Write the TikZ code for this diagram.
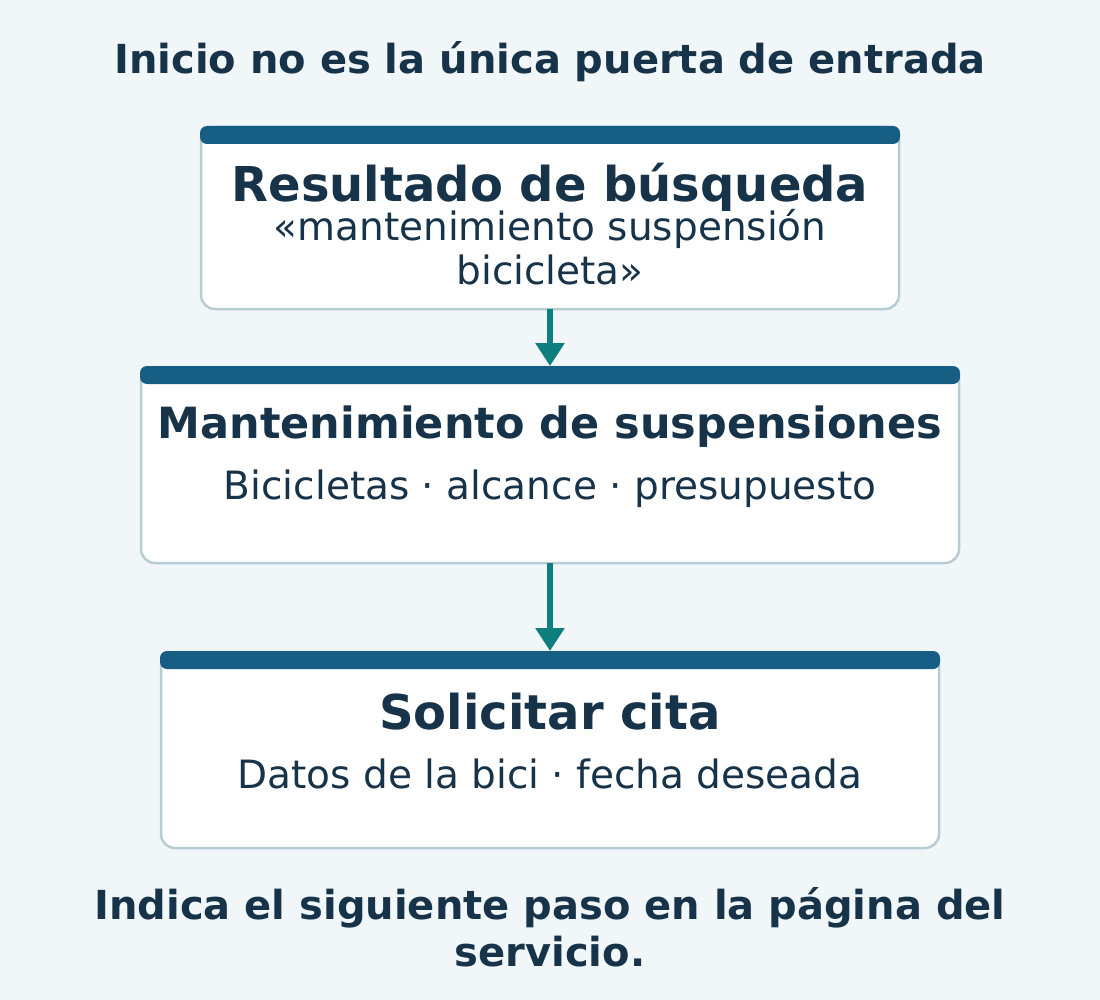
\documentclass[tikz,border=0pt]{standalone}
\usepackage{fontspec}
\setmainfont{DejaVu Sans}
\usetikzlibrary{arrows.meta}
\definecolor{bgc}{HTML}{F1F7F8}
\definecolor{txtc}{HTML}{173349}
\definecolor{barc}{HTML}{175E85}
\definecolor{arrc}{HTML}{0E7F7E}
\definecolor{brdc}{HTML}{B8CCD4}
\tikzset{
  box/.style={draw=brdc, line width=2.5pt, fill=white, rounded corners=14pt, inner sep=0pt},
  bar/.style={fill=barc, rounded corners=7pt},
  ttl/.style={text=txtc, font=\fontsize{40}{47}\selectfont\bfseries, align=center, inner sep=0pt},
  head/.style={text=txtc, font=\fontsize{48}{54}\selectfont\bfseries, align=center, inner sep=0pt},
  head2/.style={text=txtc, font=\fontsize{43}{50}\selectfont\bfseries, align=center, inner sep=0pt},
  sub/.style={text=txtc, font=\fontsize{39}{44}\selectfont, align=center, inner sep=0pt},
  flow/.style={draw=arrc, line width=6pt, -{Triangle[width=28pt,length=23pt]}},
}
\begin{document}
\begin{tikzpicture}[x=1pt,y=-1pt]
\fill[bgc] (0,0) rectangle (1100,1000);
\useasboundingbox (0,0) rectangle (1100,1000);

\node[ttl] (title) at (550,62) {Inicio no es la única puerta de entrada};

% box 1
\draw[box] (201,127) rectangle (899,309);
\coordinate (b1s) at (550,309);
\fill[bar] (200,126) rectangle (900,144);
\node[head] (h1) at (550,187) {Resultado de búsqueda};
\node[sub] (s1) at (550,247) {«mantenimiento suspensión\\bicicleta»};

% box 2
\draw[box] (141,367) rectangle (959,563);
\fill[bar] (140,366) rectangle (960,384);
\coordinate (b2n) at (550,366);
\coordinate (b2s) at (550,563);
\node[head2] (h2) at (550,427) {Mantenimiento de suspensiones};
\node[sub] (s2) at (550,489) {Bicicletas · alcance · presupuesto};

% box 3
\draw[box] (161,652) rectangle (939,848);
\fill[bar] (160,651) rectangle (940,669);
\coordinate (b3n) at (550,651);
\node[head] (h3) at (550,712) {Solicitar cita};
\node[sub] (s3) at (550,774) {Datos de la bici · fecha deseada};

\draw[flow] (b1s) -- (b2n);
\draw[flow] (b2s) -- (b3n);

\node[ttl] (foot) at (550,927) {Indica el siguiente paso en la página del\\servicio.};
\end{tikzpicture}
\end{document}
